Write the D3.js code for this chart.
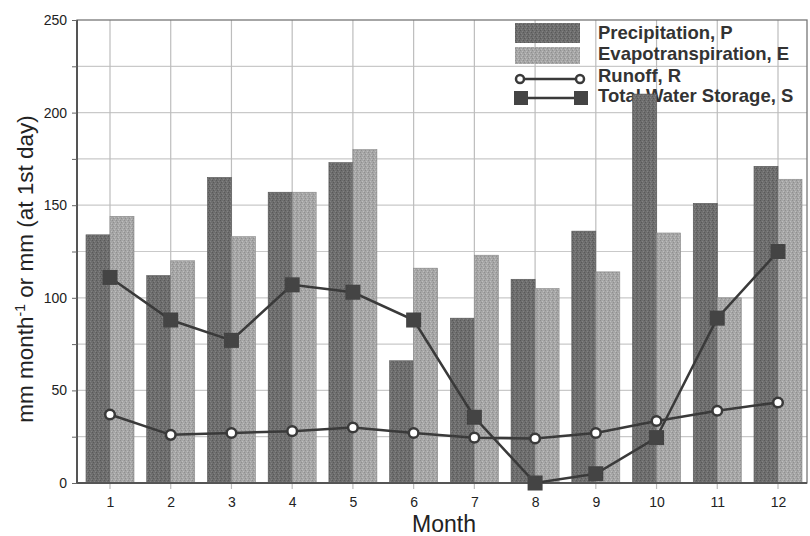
<!DOCTYPE html>
<html>
<head>
<meta charset="utf-8">
<script src="https://cdn.jsdelivr.net/npm/d3@7"></script>
<style>
  body { margin: 0; background: #fff; }
  text { font-family: "Liberation Sans", Arial, sans-serif; }
</style>
</head>
<body>
<svg id="chart" width="810" height="536"></svg>
<script>
// data
var months = [1, 2, 3, 4, 5, 6, 7, 8, 9, 10, 11, 12];
var precip = [134, 112, 165, 157, 173, 66, 89, 110, 136, 210, 151, 171];
var evap = [144, 120, 133, 157, 180, 116, 123, 105, 114, 135, 100, 164];
var runoff = [37, 26, 27, 28, 30, 27, 24.5, 24, 27, 33.5, 39, 43.5];
var storage = [111, 88, 77, 107, 103, 88, 35.5, 0, 5, 24.5, 89, 125];
var yTicks = [0, 50, 100, 150, 200, 250];
var legendLabels = ["Precipitation, P", "Evapotranspiration, E", "Runoff, R", "Total Water Storage, S"];

var plotL = 77, plotR = 807, plotT = 20, plotB = 483;
var barW = 24;

var svg = d3.select("#chart");

// stipple textures for the bars
var defs = svg.append("defs");
function stipple(id, base, dark, light) {
    var p = defs.append("pattern").attr("id", id)
        .attr("patternUnits", "userSpaceOnUse")
        .attr("width", 4).attr("height", 4);
    p.append("rect").attr("width", 4).attr("height", 4).attr("fill", base);
    p.append("rect").attr("x", 0).attr("y", 0).attr("width", 1).attr("height", 1).attr("fill", dark);
    p.append("rect").attr("x", 2).attr("y", 1).attr("width", 1).attr("height", 1).attr("fill", light);
    p.append("rect").attr("x", 1).attr("y", 2).attr("width", 1).attr("height", 1).attr("fill", dark);
    p.append("rect").attr("x", 3).attr("y", 3).attr("width", 1).attr("height", 1).attr("fill", light);
}
stipple("texP", "#6e6e6e", "#595959", "#828282");
stipple("texE", "#a6a6a6", "#8f8f8f", "#bdbdbd");

var x = d3.scaleLinear().domain([1, 12]).range([110, 778]);
var y = d3.scaleLinear().domain([0, 250]).range([plotB, plotT]);

// grid
var grid = svg.append("g");
grid.selectAll("line.h").data(d3.range(25, 250, 25)).enter().append("line")
    .attr("x1", plotL).attr("x2", plotR)
    .attr("y1", d => y(d)).attr("y2", d => y(d))
    .style("stroke", "#c9c9c9").style("stroke-width", 1.2);
grid.selectAll("line.v").data(months).enter().append("line")
    .attr("x1", d => x(d)).attr("x2", d => x(d))
    .attr("y1", plotT).attr("y2", plotB + 6)
    .style("stroke", "#bdbdbd").style("stroke-width", 1.2);

// legend (drawn under the bars, as in the figure)
var lg = svg.append("g").attr("transform", "translate(515,0)");
lg.append("rect").attr("x", 0).attr("y", 23).attr("width", 65).attr("height", 20).attr("fill", "url(#texP)");
lg.append("rect").attr("x", 0).attr("y", 47).attr("width", 65).attr("height", 17).attr("fill", "url(#texE)");
lg.append("line").attr("x1", 5).attr("x2", 65).attr("y1", 79).attr("y2", 79)
    .style("stroke", "#3a3a3a").style("stroke-width", 2.5);
lg.selectAll("circle").data([5, 65]).enter().append("circle")
    .attr("cx", d => d).attr("cy", 79).attr("r", 4)
    .style("fill", "#fff").style("stroke", "#3a3a3a").style("stroke-width", 2.5);
lg.append("line").attr("x1", 6).attr("x2", 66).attr("y1", 98).attr("y2", 98)
    .style("stroke", "#3a3a3a").style("stroke-width", 2.5);
lg.selectAll("rect.sq").data([6, 66]).enter().append("rect").attr("class", "sq")
    .attr("x", d => d - 7).attr("y", 91).attr("width", 14).attr("height", 14)
    .style("fill", "#444");
lg.selectAll("text").data(legendLabels).enter().append("text")
    .attr("x", 83).attr("y", (d, i) => [39, 60, 82, 102][i])
    .style("font-size", "18.5px").style("font-weight", "bold").style("fill", "#333")
    .text(d => d);

// bars
var bars = svg.append("g");
bars.selectAll("rect.p").data(months).enter().append("rect").attr("class", "p")
    .attr("x", d => x(d) - barW).attr("width", barW)
    .attr("y", (d, i) => y(precip[i])).attr("height", (d, i) => y(0) - y(precip[i]))
    .attr("fill", "url(#texP)").style("stroke", "#555").style("stroke-width", 0.6);
bars.selectAll("rect.e").data(months).enter().append("rect").attr("class", "e")
    .attr("x", d => x(d)).attr("width", barW)
    .attr("y", (d, i) => y(evap[i])).attr("height", (d, i) => y(0) - y(evap[i]))
    .attr("fill", "url(#texE)").style("stroke", "#888").style("stroke-width", 0.6);

// frame and axes
svg.append("rect").attr("x", plotL).attr("y", plotT).attr("width", plotR - plotL).attr("height", plotB - plotT)
    .style("fill", "none").style("stroke", "#777").style("stroke-width", 1.3);
svg.append("line").attr("x1", plotL).attr("x2", plotL).attr("y1", plotT).attr("y2", plotB)
    .style("stroke", "#555").style("stroke-width", 2);
svg.append("line").attr("x1", plotL).attr("x2", plotR).attr("y1", plotB).attr("y2", plotB)
    .style("stroke", "#555").style("stroke-width", 2);

var yAxis = svg.append("g").attr("transform", "translate(" + plotL + ",0)")
    .call(d3.axisLeft(y).tickValues(d3.range(0, 275, 25)).tickSize(5).tickFormat(d => yTicks.indexOf(d) >= 0 ? d : ""));
yAxis.select(".domain").remove();
yAxis.selectAll("line").style("stroke", "#666");
yAxis.selectAll("text").style("font-size", "14px").style("fill", "#222").attr("x", -10);

var xAxis = svg.append("g").attr("transform", "translate(0," + plotB + ")")
    .call(d3.axisBottom(x).tickValues(months).tickSize(0).tickFormat(d3.format("d")));
xAxis.select(".domain").remove();
xAxis.selectAll("text").style("font-size", "14px").style("fill", "#222").attr("y", 14);

// lines
var line = d3.line().x((d, i) => x(months[i])).y(d => y(d));
svg.append("path").datum(runoff).attr("d", line)
    .style("fill", "none").style("stroke", "#3a3a3a").style("stroke-width", 2.5);
svg.append("path").datum(storage).attr("d", line)
    .style("fill", "none").style("stroke", "#3a3a3a").style("stroke-width", 2.5);
svg.selectAll("circle.r").data(runoff).enter().append("circle").attr("class", "r")
    .attr("cx", (d, i) => x(months[i])).attr("cy", d => y(d)).attr("r", 4.8)
    .style("fill", "#fff").style("stroke", "#3a3a3a").style("stroke-width", 2.5);
svg.selectAll("rect.s").data(storage).enter().append("rect").attr("class", "s")
    .attr("x", (d, i) => x(months[i]) - 7.5).attr("y", d => y(d) - 7.5)
    .attr("width", 15).attr("height", 15).style("fill", "#444");

// axis titles
svg.append("text").attr("x", 444).attr("y", 532).attr("text-anchor", "middle")
    .style("font-size", "23px").style("fill", "#222").text("Month");
var yl = svg.append("text").attr("transform", "translate(33,269) rotate(-90)")
    .attr("text-anchor", "middle").style("font-size", "22.5px").style("fill", "#222");
yl.append("tspan").text("mm month");
yl.append("tspan").attr("dy", -8).style("font-size", "14px").text("-1");
yl.append("tspan").attr("dy", 8).text(" or mm (at 1st day)");
</script>
</body>
</html>
